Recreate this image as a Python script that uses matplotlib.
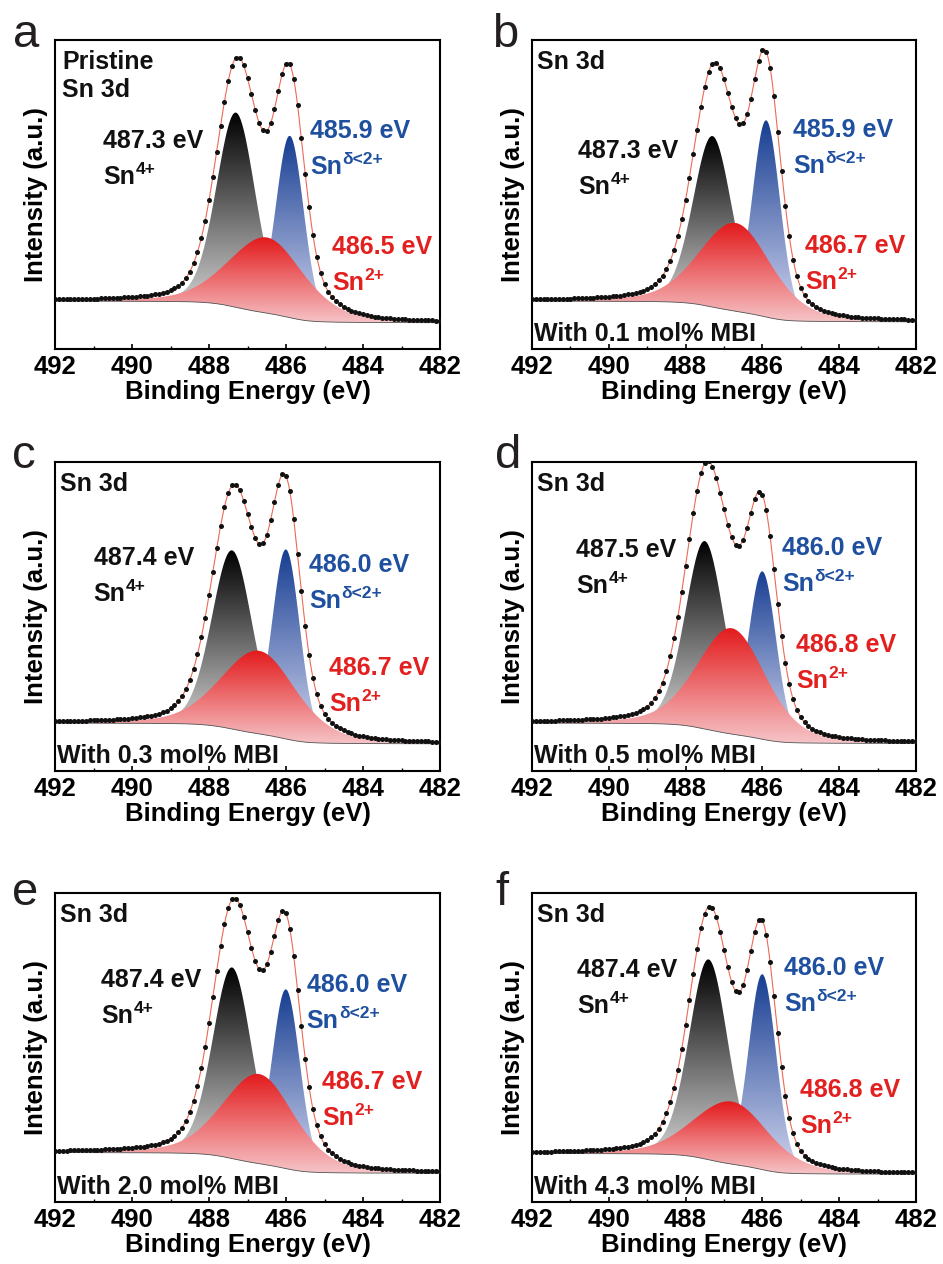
"""
Sn 3d XPS 分峰拟合图 (六个样品)
"""

import numpy as np
import matplotlib
matplotlib.use('Agg')  # 无 GUI 后端
import matplotlib.pyplot as plt
from matplotlib.colors import LinearSegmentedColormap
from matplotlib.patches import Polygon

plt.rcParams['font.family'] = ['Liberation Sans', 'DejaVu Sans']
plt.rcParams['font.weight'] = 'bold'
plt.rcParams['axes.labelweight'] = 'bold'

# ======================== 数据 ========================
panel_tags = ['a', 'b', 'c', 'd', 'e', 'f']
sample_names = ['Pristine', 'With 0.1 mol% MBI', 'With 0.3 mol% MBI',
                'With 0.5 mol% MBI', 'With 2.0 mol% MBI', 'With 4.3 mol% MBI']

# 峰位 (eV)
sn4_center = [487.3, 487.3, 487.4, 487.5, 487.4, 487.4]
snd_center = [485.9, 485.9, 486.0, 486.0, 486.0, 486.0]
sn2_center = [486.5, 486.7, 486.7, 486.8, 486.7, 486.8]

# 峰顶高度 (归一化强度, 含背景)
sn4_apex = [0.765, 0.689, 0.714, 0.744, 0.759, 0.785]
snd_apex = [0.690, 0.740, 0.717, 0.646, 0.688, 0.737]
sn2_apex = [0.361, 0.408, 0.389, 0.462, 0.414, 0.325]

# 半高宽 (eV)
sn4_fwhm = [1.20, 1.20, 1.25, 1.20, 1.20, 1.20]
snd_fwhm = [0.85, 0.85, 0.85, 0.85, 0.85, 0.85]
sn2_fwhm = [2.30, 2.20, 2.30, 2.10, 2.20, 2.30]

# 洛伦兹比例
sn4_eta = 0.2
snd_eta = 0.1
sn2_eta = 0.3

# Shirley 背景两端高度 (高结合能端 / 低结合能端)
bg_high = [0.155, 0.155, 0.155, 0.155, 0.160, 0.157]
bg_low = [0.085, 0.088, 0.088, 0.089, 0.093, 0.090]

# ======================== 样式 ========================
BLACK_TXT = '#111111'
BLUE_TXT = '#1f4f9f'
RED_TXT = '#e2201f'

# 文字位置 (axes 坐标, 左端 / 基线)
pos_sn4 = [(0.125, 0.650), (0.120, 0.618), (0.100, 0.667),
           (0.115, 0.693), (0.120, 0.696), (0.117, 0.728)]
pos_snd = [(0.662, 0.683), (0.680, 0.686), (0.660, 0.644),
           (0.651, 0.699), (0.654, 0.680), (0.656, 0.735)]
pos_sn2 = [(0.719, 0.307), (0.711, 0.310), (0.712, 0.311),
           (0.687, 0.385), (0.693, 0.366), (0.698, 0.340)]
LINE_GAP = 0.117

FIG_W, FIG_H = 943, 1264
col_left = [55, 532]
col_width = [385, 384]
row_bottom = [349, 771, 1202]
AX_H = 309
letter_pos = [(13, 47), (492, 47), (12, 468), (495, 468), (12, 905), (495, 905)]


def pseudo_voigt(x, center, height, fwhm, eta):
    s = ((x - center) / (fwhm / 2.0)) ** 2
    return height * ((1 - eta) * np.exp(-np.log(2) * s) + eta / (1 + s))


def shirley(x, signal, high, low):
    """x 升序, 背景正比于低结合能一侧的峰面积"""
    cum = np.concatenate([[0.0], np.cumsum(0.5 * (signal[1:] + signal[:-1]) * np.diff(x))])
    return low + (high - low) * cum / cum[-1]


def build_fit(i, x):
    centers = [sn4_center[i], snd_center[i], sn2_center[i]]
    apexes = [sn4_apex[i], snd_apex[i], sn2_apex[i]]
    widths = [sn4_fwhm[i], snd_fwhm[i], sn2_fwhm[i]]
    etas = [sn4_eta, snd_eta, sn2_eta]

    heights = [a - 0.5 * (bg_high[i] + bg_low[i]) for a in apexes]
    for _ in range(8):
        comps = [pseudo_voigt(x, c, h, w, e) for c, h, w, e in zip(centers, heights, widths, etas)]
        bg = shirley(x, sum(comps), bg_high[i], bg_low[i])
        heights = [a - bg[np.argmin(np.abs(x - c))] for a, c in zip(apexes, centers)]
    comps = [pseudo_voigt(x, c, h, w, e) for c, h, w, e in zip(centers, heights, widths, etas)]
    bg = shirley(x, sum(comps), bg_high[i], bg_low[i])
    return comps, bg


def grad_fill(ax, x, lo, hi, c_top, c_bot, y0, y1, z):
    """竖直渐变填充"""
    verts = np.column_stack([np.r_[x, x[::-1]], np.r_[hi, lo[::-1]]])
    patch = Polygon(verts, closed=True, facecolor='none', edgecolor='none',
                    transform=ax.transData)
    ax.add_patch(patch)
    cmap = LinearSegmentedColormap.from_list('g', [c_bot, c_top])
    grad = np.linspace(0, 1, 256).reshape(-1, 1)
    im = ax.imshow(grad, cmap=cmap, aspect='auto', origin='lower',
                   extent=(x.min(), x.max(), y0, y1), zorder=z, interpolation='bilinear')
    im.set_clip_path(patch)


def label_with_sup(ax, xy, main, sup, color):
    t = ax.text(xy[0], xy[1], main, transform=ax.transAxes, fontsize=18,
                color=color, ha='left', va='baseline', zorder=10)
    ax.annotate(sup, xy=(1.02, 0.64), xycoords=t, fontsize=12.5, color=color,
                ha='left', va='baseline', zorder=10)


def plot_panel(ax, i):
    x = np.linspace(482.0, 492.0, 1001)
    (sn4, snd, sn2), bg = build_fit(i, x)
    env = bg + sn4 + snd + sn2

    ymin = bg.min()
    grad_fill(ax, x, bg, bg + sn4, '#000000', '#e2e2e2', ymin, sn4_apex[i], 2)
    grad_fill(ax, x, bg, bg + snd, '#173e92', '#d3d6ef', ymin, snd_apex[i], 2)
    grad_fill(ax, x, bg, bg + sn2, '#e31a1c', '#f6c4c7', ymin, sn2_apex[i], 3)

    ax.plot(x, bg, color='#555555', lw=0.6, zorder=4)
    ax.plot(x, env, color='#ec6a55', lw=0.8, zorder=5)
    ax.plot(x[::10], env[::10], 'o', color='#111111', ms=3.6, mew=0, zorder=6)

    ax.set_xlim(492, 482)
    ax.set_ylim(0, 1)
    ax.set_xticks(np.arange(492, 481, -2))
    ax.set_xticks(np.arange(491, 482, -2), minor=True)
    ax.set_yticks([])
    ax.tick_params(axis='x', which='major', direction='in', length=3.5, width=1.2,
                   labelsize=18.5, pad=4)
    ax.tick_params(axis='x', which='minor', direction='in', length=2.5, width=1.0)
    for sp in ax.spines.values():
        sp.set_linewidth(1.5)
    ax.set_xlabel('Binding Energy (eV)', fontsize=18.5, labelpad=1)
    ax.set_ylabel('Intensity (a.u.)', fontsize=18.5, labelpad=5)

    # 左上角样品名
    if i == 0:
        ax.text(0.018, 0.906, 'Pristine', transform=ax.transAxes, fontsize=18,
                color=BLACK_TXT, va='baseline')
        ax.text(0.018, 0.816, 'Sn 3d', transform=ax.transAxes, fontsize=18,
                color=BLACK_TXT, va='baseline')
    else:
        ax.text(0.014, 0.906, 'Sn 3d', transform=ax.transAxes, fontsize=18,
                color=BLACK_TXT, va='baseline')
        ax.text(0.006, 0.027, sample_names[i], transform=ax.transAxes, fontsize=18,
                color=BLACK_TXT, va='baseline', zorder=10)

    # 峰标注
    px, py = pos_sn4[i]
    ax.text(px, py, f'{sn4_center[i]:.1f} eV', transform=ax.transAxes, fontsize=18,
            color=BLACK_TXT, va='baseline', zorder=10)
    label_with_sup(ax, (px, py - LINE_GAP), 'Sn', '4+', BLACK_TXT)
    px, py = pos_snd[i]
    ax.text(px, py, f'{snd_center[i]:.1f} eV', transform=ax.transAxes, fontsize=18,
            color=BLUE_TXT, va='baseline', zorder=10)
    label_with_sup(ax, (px, py - LINE_GAP), 'Sn', 'δ<2+', BLUE_TXT)
    px, py = pos_sn2[i]
    ax.text(px, py, f'{sn2_center[i]:.1f} eV', transform=ax.transAxes, fontsize=18,
            color=RED_TXT, va='baseline', zorder=10)
    label_with_sup(ax, (px, py - LINE_GAP), 'Sn', '2+', RED_TXT)


fig = plt.figure(figsize=(FIG_W / 100, FIG_H / 100), dpi=100)
for i in range(6):
    r, c = divmod(i, 2)
    rect = [col_left[c] / FIG_W, (FIG_H - row_bottom[r]) / FIG_H,
            col_width[c] / FIG_W, AX_H / FIG_H]
    ax = fig.add_axes(rect)
    plot_panel(ax, i)
    lx, ly = letter_pos[i]
    fig.text(lx / FIG_W, 1 - ly / FIG_H, panel_tags[i], fontsize=34,
             fontweight='normal', color='#231f20', va='baseline', ha='left')

fig.savefig('out.png', dpi=100)
